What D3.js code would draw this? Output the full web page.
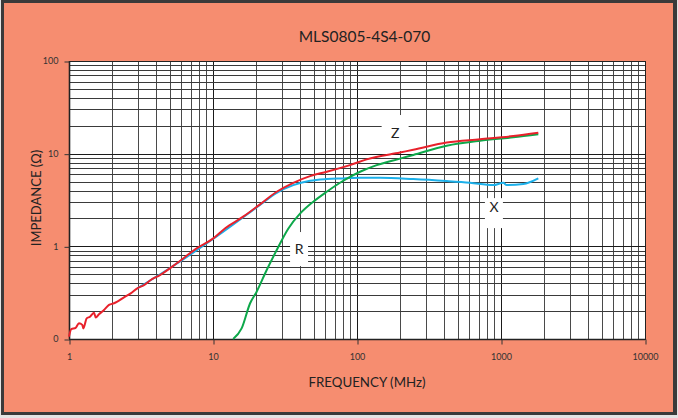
<!DOCTYPE html>
<html><head><meta charset="utf-8">
<script src="https://cdn.jsdelivr.net/npm/d3@7"></script>
<style>
html,body{margin:0;padding:0;background:#e4e4e4;}
svg{display:block;font-family:Lato,"Open Sans",sans-serif;}
</style>
</head><body>
<svg id="c" width="678" height="418"></svg>
<script>
// ---- data ----
const title = "MLS0805-4S4-070";
const xLabel = "FREQUENCY (MHz)";
const yLabel = "IMPEDANCE (\u03A9)";
const xTickValues = [1, 10, 100, 1000, 10000];
const xTickLabels = ["1", "10", "100", "1000", "10000"];
const yTickValues = [0.1, 1, 10, 100];
const yTickLabels = ["0", "1", "10", "100"];

// Z (impedance, red)
const freqZ = [1.000,1.037,1.113,1.173,1.237,1.257,1.327,1.399,1.491,1.532,1.615,1.750,1.896,2.054,2.165,2.409,2.682,2.981,3.317,3.693,4.28,5.60,7.70,10.05,12.1,16.2,21.2,27.7,36.1,47.2,61.6,89.4,116.7,199,246,420,715,1217,1816];
const valZ  = [0.106,0.128,0.132,0.148,0.142,0.130,0.167,0.174,0.192,0.171,0.185,0.206,0.233,0.243,0.253,0.282,0.311,0.352,0.382,0.433,0.490,0.656,0.952,1.22,1.56,2.09,2.84,3.88,4.85,5.73,6.38,7.53,8.68,10.3,11.0,13.2,14.3,15.5,16.8];
// X (reactance, blue)
const freqX = [2.981,5,10,16.2,21.2,27.7,36.1,47.2,61.6,80.3,105,144.5,246,420,609,884,1038,1095,1429,1816];
const valX  = [0.352,0.58,1.20,2.06,2.80,3.78,4.58,5.10,5.32,5.41,5.50,5.50,5.32,5.06,4.85,4.58,4.85,4.58,4.70,5.41];
// R (resistance, green)
const freqR = [13.8,15.8,18.1,20.1,23.6,27.7,33.3,40.2,49.7,61.6,80.3,105,137,199,246,420,715,1217,1816];
const valR  = [0.1,0.130,0.243,0.324,0.555,0.912,1.55,2.25,3.03,3.88,5.10,6.38,7.53,8.84,9.69,12.2,13.8,15.0,16.2];

const seriesNames = ["X", "R", "Z"];
const labelFreq = [893, 39.6, 184];
const labelVal  = [2.65, 0.935, 16.7];

// ---- drawing ----
const svg = d3.select("#c");
const x = d3.scaleLog().domain([1, 10000]).range([69, 645]);
const y = d3.scaleLog().domain([0.1, 100]).range([339, 61]);

// frame + background
svg.append("rect").attr("x", 1).attr("y", 0).attr("width", 676).attr("height", 415).attr("fill", "#3a3a3a");
svg.append("rect").attr("x", 4).attr("y", 3).attr("width", 669).attr("height", 409).attr("fill", "#F68D70");

// plot area
svg.append("rect").attr("x", x(1)).attr("y", y(100)).attr("width", x(10000) - x(1)).attr("height", y(0.1) - y(100)).attr("fill", "#fff");

const crisp = v => Math.round(v) + 0.5;
const grid = svg.append("g");
const xGridVals = [];
for (let d = 0; d < 4; d++) for (let k = 1; k <= 9; k++) xGridVals.push(k * Math.pow(10, d));
xGridVals.push(10000);
xGridVals.forEach(v => {
  const major = Math.abs(Math.log10(v) - Math.round(Math.log10(v))) < 1e-9;
  grid.append("line").attr("x1", crisp(x(v))).attr("x2", crisp(x(v)))
    .attr("y1", y(100)).attr("y2", y(0.1))
    .attr("stroke", major ? "#1a1a1a" : "#4a4a4a").attr("stroke-width", 1);
});
const yGridVals = [];
for (let d = -1; d < 2; d++) for (let k = 1; k <= 9; k++) yGridVals.push(k * Math.pow(10, d));
yGridVals.push(100);
yGridVals.forEach(v => {
  const major = Math.abs(Math.log10(v) - Math.round(Math.log10(v))) < 1e-9;
  grid.append("line").attr("y1", crisp(y(v))).attr("y2", crisp(y(v)))
    .attr("x1", x(1)).attr("x2", x(10000))
    .attr("stroke", major ? "#1a1a1a" : "#3a3a3a").attr("stroke-width", 1);
});
svg.append("rect").attr("x", crisp(x(1))).attr("y", crisp(y(100)))
  .attr("width", Math.round(x(10000)) - Math.round(x(1))).attr("height", Math.round(y(0.1)) - Math.round(y(100)))
  .attr("fill", "none").attr("stroke", "#222").attr("stroke-width", 1);
svg.append("line").attr("x1", x(1)).attr("x2", x(10000)).attr("y1", crisp(y(0.1))).attr("y2", crisp(y(0.1))).attr("stroke", "#222").attr("stroke-width", 1.6);
svg.append("line").attr("x1", crisp(x(1))).attr("x2", crisp(x(1))).attr("y1", y(100)).attr("y2", y(0.1)).attr("stroke", "#222").attr("stroke-width", 1.6);

// axes
const xAxis = d3.axisBottom(x).tickValues(xTickValues).tickSize(5).tickPadding(9)
  .tickFormat((d, i) => xTickLabels[i]);
const gx = svg.append("g").attr("transform", `translate(0,${crisp(y(0.1))})`).call(xAxis);
gx.select(".domain").remove();
gx.selectAll("line").attr("stroke", "#333").attr("transform", "translate(0.5,0)");
gx.selectAll("text").attr("font-size", 9).attr("fill", "#333").attr("font-family", "Lato, sans-serif");

const yAxis = d3.axisLeft(y).tickValues(yTickValues).tickSize(5).tickPadding(6)
  .tickFormat((d, i) => yTickLabels[i]);
const gy = svg.append("g").attr("transform", `translate(${crisp(x(1))},0)`).call(yAxis);
gy.select(".domain").remove();
gy.selectAll("line").attr("stroke", "#333").attr("transform", "translate(0,0.5)");
gy.selectAll("text").attr("font-size", 9).attr("fill", "#333").attr("font-family", "Lato, sans-serif");

// label boxes
const boxW = [18, 18, 27], boxH = [30, 34, 36], boxDy = [6, 0, 0];
seriesNames.forEach((n, i) => {
  const cx = x(labelFreq[i]), cy = y(labelVal[i]);
  svg.append("rect").attr("x", cx - boxW[i] / 2).attr("y", cy - boxH[i] / 2 + boxDy[i])
    .attr("width", boxW[i]).attr("height", boxH[i]).attr("fill", "#fff");
});

// curves
const line = d3.line().x(d => x(d[0])).y(d => y(d[1])).curve(d3.curveMonotoneX);
const mk = (f, v) => f.map((d, i) => [d, v[i]]);
svg.append("path").datum(mk(freqX, valX)).attr("d", line).attr("fill", "none").attr("stroke", "#1BB0EA").attr("stroke-width", 2).attr("stroke-linejoin", "round");
svg.append("path").datum(mk(freqR, valR)).attr("d", line).attr("fill", "none").attr("stroke", "#0DA84A").attr("stroke-width", 2).attr("stroke-linejoin", "round");
svg.append("path").datum(mk(freqZ, valZ)).attr("d", line).attr("fill", "none").attr("stroke", "#E8212B").attr("stroke-width", 2).attr("stroke-linejoin", "round");

// labels
seriesNames.forEach((n, i) => {
  svg.append("text").attr("x", x(labelFreq[i])).attr("y", y(labelVal[i]) + 5)
    .attr("text-anchor", "middle").attr("font-size", 14).attr("fill", "#222").text(n);
});

// titles
svg.append("text").attr("x", 364.5).attr("y", 42).attr("text-anchor", "middle")
  .attr("font-size", 15.5).attr("fill", "#222").text(title);
svg.append("text").attr("x", 367).attr("y", 387).attr("text-anchor", "middle")
  .attr("font-size", 13.3).attr("fill", "#222").text(xLabel);
svg.append("text").attr("transform", "translate(41,198) rotate(-90)").attr("text-anchor", "middle")
  .attr("font-size", 13).attr("fill", "#222").text(yLabel);
</script>
</body></html>
